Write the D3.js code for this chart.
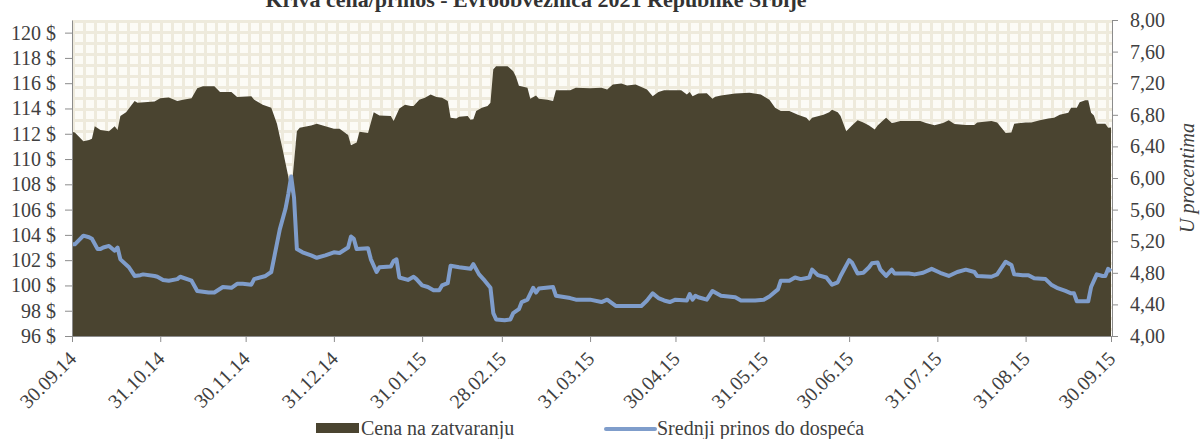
<!DOCTYPE html>
<html>
<head>
<meta charset="utf-8">
<script src="https://cdn.jsdelivr.net/npm/d3@7"></script>
<style>
    body { margin: 0; background: #fff; }
    svg { display: block; }
    svg text { font-family: "Liberation Serif", "DejaVu Serif", serif !important; }
    .axis path, .axis line { stroke: #8c8c8c; }
    .axis text { fill: #404040; font-size: 20px; }
</style>
</head>
<body>
<script>

// data; days are counted from 30.09.2014
var startLabel = "30.09.14";
var endLabel = "30.09.15";

var priceDays = [0, 1, 4, 6, 7, 8, 10, 13, 15, 16, 17, 19, 22, 23, 29, 31, 34, 37, 39, 42, 44, 46, 50, 52, 56, 58,
    63, 64, 67, 70, 72, 74, 76, 77, 79, 80, 84, 86, 89, 92, 94, 97, 98, 100, 101, 104, 106, 108, 112, 113, 115,
    117, 119, 120, 122, 124, 126, 128, 130, 132, 133, 135, 136, 139, 140, 141, 142, 144, 146, 147, 148, 149, 153,
    155, 156, 157, 160, 161, 163, 164, 167, 169, 170, 175, 177, 182, 186, 188, 190, 193, 195, 198, 200, 202, 204,
    206, 208, 214, 216, 217, 218, 220, 223, 225, 226, 228, 233, 238, 242, 245, 247, 249, 252, 255, 258, 259, 260,
    264, 266, 267, 269, 270, 271, 272, 274, 276, 278, 280, 282, 283, 285, 286, 288, 289, 291, 298, 300, 303, 306,
    308, 310, 314, 317, 318, 323, 325, 328, 330, 331, 335, 337, 340, 343, 345, 347, 350, 351, 353, 354, 356, 357,
    358, 359, 360, 363, 364, 365];
var priceValues = [112.15, 112.1, 111.4, 111.5, 111.6, 112.6, 112.3, 112.2, 112.6, 112.3, 113.4, 113.7, 114.6,
    114.45, 114.55, 114.8, 114.87, 114.6, 114.7, 114.8, 115.6, 115.76, 115.76, 115.3, 115.3, 114.9, 114.97, 114.7,
    114.3, 114.05, 112.8, 110.75, 108.6, 107.3, 112.2, 112.47, 112.65, 112.8, 112.6, 112.4, 112.4, 111.9, 111.1,
    111.3, 112.15, 112.07, 113.7, 113.45, 113.4, 113.0, 114.0, 114.3, 114.2, 114.2, 114.7, 114.84, 115.1, 114.9,
    114.84, 114.6, 113.26, 113.2, 113.35, 113.4, 113.1, 113.15, 113.8, 114.05, 114.2, 114.45, 117.1, 117.35,
    117.35, 116.95, 116.5, 115.8, 115.64, 114.77, 115.03, 114.77, 114.7, 114.6, 115.45, 115.45, 115.64, 115.6,
    115.64, 115.5, 115.9, 115.97, 115.82, 115.9, 115.7, 115.5, 114.97, 115.3, 115.45, 115.45, 115.1, 115.3,
    114.97, 115.19, 115.2, 114.77, 114.92, 115.03, 115.19, 115.24, 115.1, 114.7, 114.05, 113.8, 113.8, 113.5,
    113.26, 113.0, 113.26, 113.5, 113.7, 113.9, 113.7, 113.4, 112.8, 112.2, 112.65, 113.07, 112.9, 112.65,
    112.33, 112.65, 113.07, 113.26, 112.86, 112.9, 113.0, 113.0, 112.86, 112.68, 112.86, 113.07, 112.78, 112.7,
    112.7, 112.9, 113.0, 112.9, 112.07, 112.1, 112.8, 112.9, 112.9, 113.07, 113.2, 113.26, 113.5, 113.66, 114.05,
    114.05, 114.5, 114.65, 114.65, 113.66, 113.44, 112.8, 112.8, 112.47, 112.5];

var yieldDays = [0, 1, 4, 6, 7, 9, 10, 11, 13, 15, 16, 17, 20, 22, 24, 25, 29, 30, 32, 34, 37, 38, 42, 44, 48, 50,
    53, 56, 58, 60, 63, 64, 68, 70, 71, 73, 75, 76, 77, 78, 79, 81, 84, 86, 89, 92, 94, 97, 98, 99, 100, 104, 105,
    107, 108, 112, 113, 114, 115, 118, 120, 121, 123, 125, 127, 129, 130, 132, 133, 136, 140, 141, 143, 145, 147,
    148, 149, 152, 154, 155, 157, 158, 160, 162, 163, 164, 169, 170, 175, 177, 182, 186, 188, 191, 198, 200, 202,
    204, 206, 208, 210, 212, 216, 217, 218, 219, 220, 223, 225, 228, 233, 235, 240, 243, 245, 248, 249, 252, 254,
    256, 259, 260, 262, 265, 267, 269, 270, 273, 274, 276, 278, 280, 281, 283, 284, 286, 288, 289, 291, 294, 296,
    299, 302, 305, 308, 311, 314, 317, 318, 323, 325, 328, 330, 331, 334, 336, 338, 342, 344, 346, 349, 351, 352,
    353, 356, 357, 358, 360, 362, 363, 364, 365];
var yieldValues = [5.16, 5.16, 5.27, 5.25, 5.23, 5.10, 5.10, 5.12, 5.14, 5.08, 5.12, 4.97, 4.87, 4.76, 4.77, 4.78,
    4.76, 4.75, 4.71, 4.70, 4.72, 4.75, 4.70, 4.57, 4.55, 4.55, 4.62, 4.61, 4.66, 4.66, 4.65, 4.72, 4.76, 4.81,
    4.99, 5.35, 5.61, 5.80, 6.02, 5.75, 5.10, 5.06, 5.02, 4.99, 5.02, 5.06, 5.05, 5.12, 5.26, 5.23, 5.10, 5.11,
    4.97, 4.81, 4.87, 4.88, 4.95, 4.97, 4.74, 4.71, 4.75, 4.72, 4.64, 4.62, 4.58, 4.58, 4.64, 4.67, 4.89, 4.87,
    4.85, 4.91, 4.78, 4.70, 4.61, 4.29, 4.21, 4.20, 4.21, 4.29, 4.34, 4.43, 4.46, 4.61, 4.55, 4.60, 4.62, 4.51,
    4.48, 4.46, 4.46, 4.43, 4.46, 4.38, 4.38, 4.38, 4.45, 4.54, 4.48, 4.45, 4.43, 4.46, 4.45, 4.53, 4.46, 4.51,
    4.49, 4.46, 4.57, 4.51, 4.49, 4.45, 4.45, 4.46, 4.50, 4.59, 4.70, 4.70, 4.74, 4.72, 4.74, 4.84, 4.77, 4.74,
    4.65, 4.68, 4.76, 4.96, 4.93, 4.79, 4.80, 4.87, 4.92, 4.93, 4.84, 4.76, 4.84, 4.79, 4.79, 4.79, 4.78, 4.80,
    4.85, 4.80, 4.76, 4.81, 4.84, 4.81, 4.76, 4.75, 4.78, 4.94, 4.90, 4.78, 4.77, 4.77, 4.73, 4.72, 4.65, 4.61,
    4.57, 4.54, 4.54, 4.44, 4.44, 4.44, 4.62, 4.78, 4.76, 4.76, 4.85, 4.82];

// tick labels
var dateTicks = ["30.09.14", "31.10.14", "30.11.14", "31.12.14", "31.01.15", "28.02.15", "31.03.15",
    "30.04.15", "31.05.15", "30.06.15", "31.07.15", "31.08.15", "30.09.15"];
var priceTicks = [96, 98, 100, 102, 104, 106, 108, 110, 112, 114, 116, 118, 120];
var yieldTicks = [4.0, 4.4, 4.8, 5.2, 5.6, 6.0, 6.4, 6.8, 7.2, 7.6, 8.0];

var titleText = "Kriva cena/prinos - Evroobveznica 2021 Republike Srbije";
var priceLabel = "Cena na zatvaranju";
var yieldLabel = "Srednji prinos do dospeća";
var yieldAxisLabel = "U procentima";

var areaColor = "#4a4430",
    lineColor = "#7f9dcb",
    textColor = "#404040",
    serif = "'Liberation Serif', 'DejaVu Serif', serif";

var margin = { top: 20, right: 88, bottom: 103, left: 72 },
    width = 1200 - margin.left - margin.right,
    height = 439 - margin.top - margin.bottom;

var parseDate = d3.timeParse("%d.%m.%y");
var start = parseDate(startLabel);
function toDate(day) { return d3.timeDay.offset(start, day); }

var priceData = priceDays.map(function (d, i) { return { date: toDate(d), value: priceValues[i] }; });
var yieldData = yieldDays.map(function (d, i) { return { date: toDate(d), value: yieldValues[i] }; });

// scales
var xScale = d3.scaleTime().domain([start, parseDate(endLabel)]).range([0, width - 1]);
var yPrice = d3.scaleLinear().domain([96, 121]).range([height, 0]);
var yYield = d3.scaleLinear().domain([4, 8]).range([height, 0]);

var svg = d3.select("body").append("svg")
    .attr("width", 1200)
    .attr("height", 439)
    .attr("font-family", serif);

// plot background pattern
var defs = svg.append("defs");
var pat = defs.append("pattern")
    .attr("id", "grid")
    .attr("patternUnits", "userSpaceOnUse")
    .attr("x", margin.left)
    .attr("y", margin.top)
    .attr("width", 11)
    .attr("height", 11);
pat.append("rect").attr("width", 11).attr("height", 11).attr("fill", "#eeeadc");
pat.append("rect").attr("x", 3).attr("y", 3).attr("width", 8).attr("height", 8).attr("fill", "#fcfbf6");

svg.append("rect")
    .attr("x", margin.left)
    .attr("y", margin.top)
    .attr("width", width)
    .attr("height", height)
    .attr("fill", "url(#grid)");

var g = svg.append("g")
    .attr("transform", "translate(" + margin.left + "," + margin.top + ")");

// price area
var area = d3.area()
    .x(function (d) { return xScale(d.date); })
    .y0(height)
    .y1(function (d) { return yPrice(d.value); });

g.append("path")
    .datum(priceData)
    .attr("fill", areaColor)
    .attr("d", area);

// yield line
var line = d3.line()
    .x(function (d) { return xScale(d.date); })
    .y(function (d) { return yYield(d.value); });

g.append("path")
    .datum(yieldData)
    .attr("fill", "none")
    .attr("stroke", lineColor)
    .attr("stroke-width", 4)
    .attr("stroke-linejoin", "round")
    .attr("d", line);

// left axis
g.append("g")
    .attr("class", "axis")
    .call(d3.axisLeft(yPrice)
        .tickValues(priceTicks)
        .tickSize(7)
        .tickSizeOuter(0)
        .tickPadding(9)
        .tickFormat(function (d) { return d + " $"; }))
    .attr("font-family", serif);

// right axis
g.append("g")
    .attr("class", "axis")
    .attr("transform", "translate(" + (width) + ",0)")
    .call(d3.axisRight(yYield)
        .tickValues(yieldTicks)
        .tickSize(6)
        .tickSizeOuter(0)
        .tickPadding(12)
        .tickFormat(function (d) { return d3.format(".2f")(d).replace(".", ","); }))
    .attr("font-family", serif);

// x axis
var xAxisG = g.append("g")
    .attr("class", "axis")
    .attr("transform", "translate(0," + height + ")")
    .call(d3.axisBottom(xScale)
        .tickValues(dateTicks.map(parseDate))
        .tickSize(6)
        .tickSizeOuter(0)
        .tickFormat(d3.timeFormat("%d.%m.%y")))
    .attr("font-family", serif);

xAxisG.selectAll("text")
    .attr("x", 0)
    .attr("y", 0)
    .attr("dy", 0)
    .attr("text-anchor", "end")
    .attr("transform", "translate(5,24) rotate(-45)");

// title
svg.append("text")
    .attr("x", 536)
    .attr("y", 7)
    .attr("text-anchor", "middle")
    .style("font-size", "22px")
    .style("font-weight", "bold")
    .style("fill", "#333")
    .text(titleText);

// right axis title
svg.append("text")
    .attr("transform", "translate(1194," + (margin.top + height / 2) + ") rotate(-90)")
    .attr("text-anchor", "middle")
    .style("font-size", "20px")
    .style("font-style", "italic")
    .style("fill", textColor)
    .text(yieldAxisLabel);

// legend
var legend = svg.append("g");
legend.append("rect")
    .attr("x", 316).attr("y", 423)
    .attr("width", 43).attr("height", 10)
    .attr("fill", areaColor);
legend.append("text")
    .attr("x", 361).attr("y", 435)
    .style("font-size", "20px")
    .style("fill", textColor)
    .text(priceLabel);
legend.append("line")
    .attr("x1", 606).attr("x2", 655)
    .attr("y1", 429).attr("y2", 429)
    .attr("stroke", lineColor)
    .attr("stroke-width", 4)
    .attr("stroke-linecap", "round");
legend.append("text")
    .attr("x", 657).attr("y", 435)
    .style("font-size", "20px")
    .style("fill", textColor)
    .text(yieldLabel);

</script>
</body>
</html>
